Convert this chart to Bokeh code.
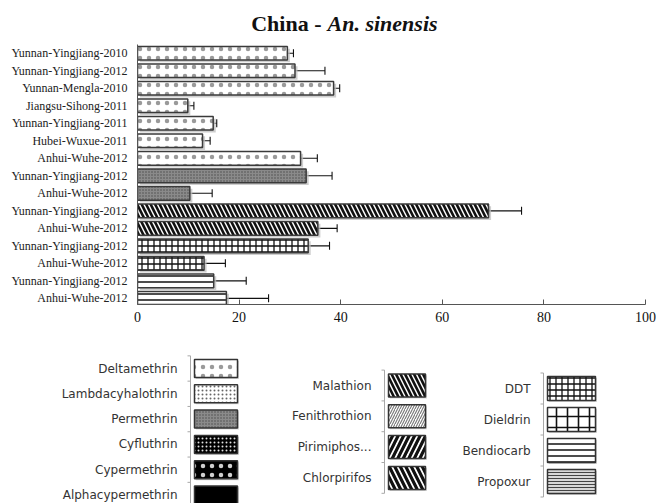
from bokeh.plotting import figure
from bokeh.models import ColumnDataSource, Range1d, FixedTicker, Whisker, TeeHead
from bokeh.layouts import column
from bokeh.transform import dodge
from bokeh.core.properties import value
from bokeh.embed import file_html
from bokeh.resources import INLINE

# ---------------- data ----------------
title_main = "China -"
title_species = "An. sinensis"

locations = [
    "Yunnan-Yingjiang-2010", "Yunnan-Yingjiang-2012", "Yunnan-Mengla-2010",
    "Jiangsu-Sihong-2011", "Yunnan-Yingjiang-2011", "Hubei-Wuxue-2011",
    "Anhui-Wuhe-2012", "Yunnan-Yingjiang-2012", "Anhui-Wuhe-2012",
    "Yunnan-Yingjiang-2012", "Anhui-Wuhe-2012", "Yunnan-Yingjiang-2012",
    "Anhui-Wuhe-2012", "Yunnan-Yingjiang-2012", "Anhui-Wuhe-2012",
]
insecticides = [
    "Deltamethrin", "Deltamethrin", "Deltamethrin", "Deltamethrin",
    "Deltamethrin", "Deltamethrin", "Deltamethrin",
    "Permethrin", "Permethrin",
    "Malathion", "Malathion",
    "DDT", "DDT",
    "Bendiocarb", "Bendiocarb",
]
values = [29.5, 31.0, 38.6, 9.9, 14.9, 12.8, 32.1, 33.2, 10.3, 69.1, 35.5, 33.6, 13.1, 15.0, 17.5]
errors = [1.2, 5.9, 1.2, 1.2, 0.7, 1.5, 3.3, 5.1, 4.4, 6.5, 3.8, 4.2, 4.2, 6.4, 8.3]
x_ticks = [0, 20, 40, 60, 80, 100]

legend_col1 = ["Deltamethrin", "Lambdacyhalothrin", "Permethrin",
               "Cyfluthrin", "Cypermethrin", "Alphacypermethrin"]
legend_col2 = ["Malathion", "Fenithrothion", "Pirimiphos...", "Chlorpirifos"]
legend_col3 = ["DDT", "Dieldrin", "Bendiocarb", "Propoxur"]

# ---------------- styles ----------------
# name: (fill, hatch pattern, hatch scale, hatch weight, hatch colour)
STYLE = {
    "Deltamethrin": ("white", "dot", 9, 0.3, "#9a9a9a"),
    "Lambdacyhalothrin": ("white", "dot", 4, 0.3, "#666666"),
    "Permethrin": ("#8a8a8a", "dot", 3, 0.6, "#4a4a4a"),
    "Cyfluthrin": ("black", "dot", 4, 0.5, "#e0e0e0"),
    "Cypermethrin": ("black", "dot", 9, 0.4, "#d0d0d0"),
    "Alphacypermethrin": ("black", " ", 8, 1.0, "black"),
    "Malathion": ("white", "left_diagonal_line", 9, 2.6, "#111111"),
    "Fenithrothion": ("white", "right_diagonal_line", 5, 1.1, "#777777"),
    "Pirimiphos...": ("white", "right_diagonal_line", 11, 3.2, "#111111"),
    "Chlorpirifos": ("white", "left_diagonal_line", 11, 3.2, "#111111"),
    "DDT": ("white", "cross", 6, 1.3, "#111111"),
    "Dieldrin": ("white", "cross", 11, 1.6, "#111111"),
    "Bendiocarb": ("white", "horizontal_line", 6, 1.5, "#111111"),
    "Propoxur": ("#d8d8d8", "horizontal_line", 3, 1.0, "#444444"),
}

W = 656
SERIF = "Liberation Serif"
SANS = "DejaVu Sans"

# ---------------- title ----------------
pt = figure(width=W, height=44, x_range=Range1d(0, W), y_range=Range1d(44, 0),
            x_axis_location=None, y_axis_location=None, min_border=0, frame_align=False,
            output_backend="svg", toolbar_location=None)
pt.grid.visible = False
pt.outline_line_color = None
pt.text(x=[321], y=[23], text=[title_main], text_align="right", text_baseline="middle",
        text_font=value(SERIF), text_font_style="bold", text_font_size=value("22px"),
        text_color="#111111")
pt.text(x=[327], y=[23], text=[title_species], text_align="left", text_baseline="middle",
        text_font=value(SERIF), text_font_style="bold italic", text_font_size=value("22px"),
        text_color="#111111")

# ---------------- chart ----------------
rows = list(range(1, len(locations) + 1))
src = ColumnDataSource(dict(
    y=rows, val=values,
    lower=[v - e for v, e in zip(values, errors)],
    upper=[v + e for v, e in zip(values, errors)],
    fill=[STYLE[i][0] for i in insecticides],
    hp=[STYLE[i][1] for i in insecticides],
    hs=[STYLE[i][2] for i in insecticides],
    hw=[STYLE[i][3] for i in insecticides],
    hc=[STYLE[i][4] for i in insecticides],
))

p = figure(width=W, height=300, x_range=Range1d(0, 100), y_range=Range1d(15.35, 0.5),
           min_border_left=137, min_border_right=11, min_border_top=0, min_border_bottom=40,
           frame_align=False, output_backend="svg", toolbar_location=None)
p.grid.visible = False
p.outline_line_color = None

# soft shadow
p.hbar(y=dodge("y", 0.13), left=0.5, right=dodge("val", 0.5), height=0.78, source=src,
       fill_color="#bdbdbd", fill_alpha=0.75, line_color=None)
p.hbar(y="y", left=0, right="val", height=0.78, source=src,
       fill_color="fill", line_color="#3a3a3a", line_width=1.5,
       hatch_pattern="hp", hatch_scale="hs", hatch_weight="hw", hatch_color="hc")

p.add_layout(Whisker(base="y", lower="lower", upper="upper", dimension="width", source=src,
                     line_color="#111111", line_width=1.1,
                     upper_head=TeeHead(size=8, line_color="#111111", line_width=1.1),
                     lower_head=TeeHead(size=8, line_color="#111111", line_width=1.1)))

p.xaxis.ticker = FixedTicker(ticks=x_ticks)
p.xaxis.major_tick_in = 5
p.xaxis.major_tick_out = 0
p.xaxis.minor_tick_line_color = None
p.xaxis.axis_line_color = "#555555"
p.xaxis.major_tick_line_color = "#555555"
p.xaxis.major_label_text_font = SERIF
p.xaxis.major_label_text_font_size = "14px"
p.xaxis.major_label_text_color = "#111111"
p.xaxis.major_label_standoff = 7

p.yaxis.ticker = FixedTicker(ticks=rows)
p.yaxis.major_label_overrides = {r: loc for r, loc in zip(rows, locations)}
p.yaxis.major_tick_line_color = None
p.yaxis.major_tick_in = 0
p.yaxis.major_tick_out = 0
p.yaxis.minor_tick_line_color = None
p.yaxis.axis_line_color = "#555555"
p.yaxis.major_label_text_font = SERIF
p.yaxis.major_label_text_font_size = "12px"
p.yaxis.major_label_text_color = "#222222"
p.yaxis.major_label_standoff = 10

# ---------------- legend panel ----------------
pl = figure(width=W, height=159, x_range=Range1d(0, W), y_range=Range1d(503, 344),
            x_axis_location=None, y_axis_location=None, min_border=0, frame_align=False,
            output_backend="svg", toolbar_location=None)
pl.grid.visible = False
pl.outline_line_color = None

# layout of each legend column:
# (names, label right edge, swatch left, swatch right, first row y, pitch, swatch height)
columns = [
    (legend_col1, 177, 194, 237, 368, 25.3, 18),
    (legend_col2, 371, 388, 425, 385, 30.8, 23),
    (legend_col3, 530, 547, 595, 388, 31, 24),
]
for names, lab_r, sw_l, sw_r, y0, pitch, sw_h in columns:
    ys = [y0 + k * pitch for k in range(len(names))]
    csrc = ColumnDataSource(dict(
        x=[(sw_l + sw_r) / 2] * len(names), y=ys, name=names, lx=[lab_r] * len(names),
        fill=[STYLE[n][0] for n in names], hp=[STYLE[n][1] for n in names],
        hs=[STYLE[n][2] for n in names], hw=[STYLE[n][3] for n in names],
        hc=[STYLE[n][4] for n in names],
    ))
    # bracket
    bx = sw_l - 4
    bounds = [y0 - pitch / 2 + k * pitch for k in range(len(names) + 1)]
    pl.segment(x0=[bx], y0=[bounds[0]], x1=[bx], y1=[bounds[-1]], line_color="#a8a8a8", line_width=1)
    pl.segment(x0=[bx - 3] * len(bounds), y0=bounds, x1=[bx] * len(bounds), y1=bounds,
               line_color="#a8a8a8", line_width=1)
    # swatch shadow + swatch
    pl.rect(x=dodge("x", 1.5), y=dodge("y", 1.5), width=sw_r - sw_l, height=sw_h, source=csrc,
            fill_color="#c4c4c4", fill_alpha=0.7, line_color=None)
    pl.rect(x="x", y="y", width=sw_r - sw_l, height=sw_h, source=csrc,
            fill_color="fill", line_color="#333333", line_width=1.5,
            hatch_pattern="hp", hatch_scale="hs", hatch_weight="hw", hatch_color="hc")
    pl.text(x="lx", y="y", text="name", source=csrc, text_align="right", text_baseline="middle",
            text_font=value(SANS), text_font_size=value("12px"), text_color="#333333")

layout = column(pt, p, pl, spacing=0)
open("out.html", "w").write(file_html(layout, INLINE))
